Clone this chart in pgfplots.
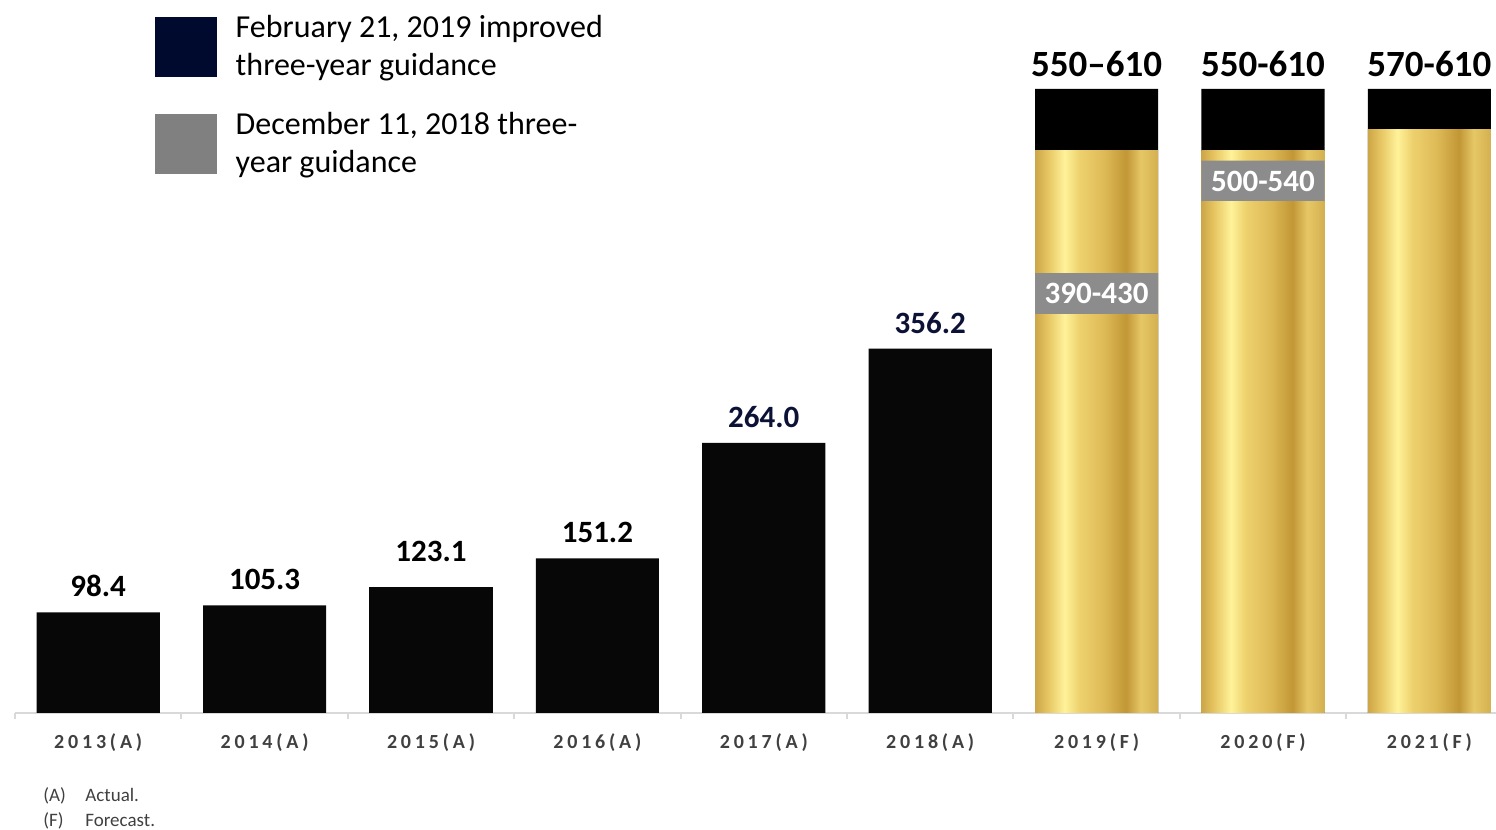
\documentclass[border=0pt]{standalone}
\usepackage{fontspec}
\setmainfont{Carlito}
\usepackage{pgfplots}
\pgfplotsset{compat=1.18}
\definecolor{barblack}{HTML}{070707}
\definecolor{navy}{HTML}{000A2E}
\definecolor{labnavy}{HTML}{0B1235}
\definecolor{greybox}{HTML}{8C8C8C}
\definecolor{legendgrey}{HTML}{808080}
\definecolor{ticklab}{HTML}{404040}
\definecolor{axisgrey}{HTML}{D9D9D9}
\pgfdeclarehorizontalshading{gold}{100bp}{%
rgb(0bp)=(0.80,0.65,0.28);
rgb(25bp)=(0.80,0.65,0.28);
rgb(30bp)=(0.90,0.77,0.38);
rgb(37bp)=(1.00,0.95,0.60);
rgb(43bp)=(0.93,0.82,0.43);
rgb(53bp)=(0.87,0.73,0.34);
rgb(62bp)=(0.76,0.59,0.21);
rgb(68bp)=(0.90,0.78,0.40);
rgb(75bp)=(0.83,0.69,0.31);
rgb(100bp)=(0.83,0.69,0.31)}
\newcommand\vallab{\fontsize{15.5}{18}\selectfont\bfseries}
\pgfplotsset{goldbar/.style={ybar, bar width=0.74, bar shift=0pt, draw=none, shade, shading=gold, forget plot}}
\begin{document}
\begin{tikzpicture}
\useasboundingbox (-7.5pt,-58.5pt) rectangle (740.5pt,356.5pt);
\begin{axis}[
  name=ax, at={(0,0)}, anchor=south west,
  scale only axis, width=740.48pt, height=356.5pt,
  xmin=-0.5, xmax=8.4, ymin=0, ymax=697,
  axis x line=bottom, axis y line=none,
  x axis line style={-},
  axis line style={draw=axisgrey, line width=1pt},
  xtick={0,...,8},
  xticklabels={2013(A),2014(A),2015(A),2016(A),2017(A),2018(A),2019(F),2020(F),2021(F)},
  major tick length=0pt,
  minor xtick={-0.5,0.5,...,7.5},
  minor tick length=3pt,
  tick align=outside,
  minor tick style={draw=axisgrey, line width=1pt},
  xticklabel style={anchor=center, yshift=-15pt, text=ticklab,
    font=\fontsize{10}{12}\selectfont\bfseries\addfontfeature{LetterSpace=19}},
  clip=false,
  legend style={at={(rel axis cs:0.0945,0.979)}, anchor=north west,
    draw=none, fill=none, inner sep=0pt, outer sep=0pt,
    font=\fontsize{16}{19}\selectfont,
    row sep=17pt,
    cells={anchor=west, align=left},
    nodes={inner sep=0pt},
    /tikz/every odd column/.append style={column sep=9.5pt}},
]
\addlegendimage{legend image code/.code={\fill[navy] (0pt,-14.75pt) rectangle (30.5pt,14.75pt);}}
\addlegendentry{February 21, 2019 improved\\three-year guidance}
\addlegendimage{legend image code/.code={\fill[legendgrey] (0pt,-14.75pt) rectangle (30.5pt,14.75pt);}}
\addlegendentry{December 11, 2018 three-\\year guidance}

% actual bars, black labels
\addplot[ybar, bar width=0.74, bar shift=0pt, fill=barblack, draw=none, forget plot,
  nodes near coords, point meta=explicit symbolic,
  every node near coord/.append style={anchor=center, yshift=13pt, text=black, font=\vallab}]
  coordinates {(0,98.4)[98.4] (1,105.3)[105.3] (3,151.2)[151.2]};
\addplot[ybar, bar width=0.74, bar shift=0pt, fill=barblack, draw=none, forget plot,
  nodes near coords, point meta=explicit symbolic,
  every node near coord/.append style={anchor=center, yshift=18pt, text=black, font=\vallab}]
  coordinates {(2,123.1)[123.1]};
% actual bars, navy labels
\addplot[ybar, bar width=0.74, bar shift=0pt, fill=barblack, draw=none, forget plot,
  nodes near coords, point meta=explicit symbolic,
  every node near coord/.append style={anchor=center, yshift=13pt, text=labnavy, font=\vallab}]
  coordinates {(4,264.0)[264.0] (5,356.2)[356.2]};
% forecast: full range top (black)
\addplot[ybar, bar width=0.74, bar shift=0pt, fill=black, draw=none, forget plot,
  nodes near coords, point meta=explicit symbolic,
  every node near coord/.append style={anchor=center, yshift=12.5pt, text=black,
    font=\fontsize{18.5}{22}\selectfont\bfseries}]
  coordinates {(6,610)[550–610] (7,610)[550-610] (8,610)[570-610]};
% forecast: lower bound of improved guidance (gold), one plot per bar
\addplot[goldbar] coordinates {(6,550)};
\addplot[goldbar] coordinates {(7,550)};
\addplot[goldbar] coordinates {(8,570)};
% previous guidance ranges (grey)
\addplot[ybar, bar width=0.74, bar shift=0pt, fill=greybox, draw=none, forget plot]
  coordinates {(6,430) (7,540)};
\addplot[goldbar] coordinates {(6,390)};
\addplot[goldbar] coordinates {(7,500)};
% range labels
\addplot[draw=none, mark=none, forget plot,
  nodes near coords, point meta=explicit symbolic,
  every node near coord/.append style={anchor=center, text=white, font=\vallab}]
  coordinates {(6,410)[390-430] (7,520)[500-540]};
\end{axis}
\node[anchor=west, inner sep=0pt, text=ticklab, font=\fontsize{9.5}{11.4}\selectfont]
  at (14pt,-41.5pt) {\makebox[21pt][l]{(A)}Actual.};
\node[anchor=west, inner sep=0pt, text=ticklab, font=\fontsize{9.5}{11.4}\selectfont]
  at (14pt,-54pt) {\makebox[21pt][l]{(F)}Forecast.};
\end{tikzpicture}
\end{document}
